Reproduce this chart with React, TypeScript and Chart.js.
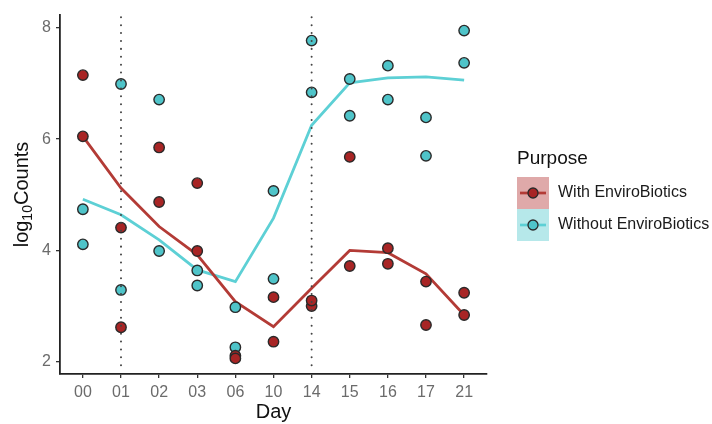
import React, { useEffect, useRef } from "react";
import { Chart, registerables } from "chart.js";

Chart.register(...registerables);

const days = ["00", "01", "02", "03", "06", "10", "14", "15", "16", "17", "21"];
const withPtsA = [7.15, 4.41, 5.85, 5.21, 2.06, 3.16, 3.1, 5.68, 4.04, 3.44, 3.24];
const withPtsB = [6.05, 2.62, 4.87, 3.99, 2.11, 2.36, 3.0, 3.72, 3.76, 2.66, 2.84];
const withoutPtsA = [4.74, 6.99, 6.71, 3.64, 2.98, 5.07, 7.77, 7.08, 7.32, 6.39, 7.95];
const withoutPtsB = [4.11, 3.29, 3.99, 3.37, 2.26, 3.49, 6.84, 6.42, 6.71, 5.7, 7.37];
const withLine = [6.05, 5.12, 4.43, 3.92, 3.08, 2.63, 3.32, 4.0, 3.96, 3.58, 2.84];
const withoutLine = [4.92, 4.64, 4.19, 3.65, 3.44, 4.58, 6.25, 7.01, 7.1, 7.12, 7.06];
const yTicks = [2, 4, 6, 8];
const markerDays = ["01", "14"];
const seriesNames = ["With EnviroBiotics", "Without EnviroBiotics"];
const legendTitle = "Purpose";

const RED_PT = "#a82525";
const RED_LINE = "#b33b36";
const CYAN_PT = "#4fc4c9";
const CYAN_LINE = "#5dd0d5";
const FONT = "'Liberation Sans', Arial, Helvetica, sans-serif";

const toXY = (arr: number[]) => arr.map((y, i) => ({ x: i, y }));

export default function App() {
  const ref = useRef<HTMLCanvasElement | null>(null);
  useEffect(() => {
    if (!ref.current) return;
    const markerSets = markerDays.map((d) => {
      const i = days.indexOf(d);
      return {
        type: "line" as const,
        data: [
          { x: i, y: 8.19 },
          { x: i, y: 1.9 },
        ],
        borderColor: "#444",
        borderWidth: 2,
        borderDash: [0.01, 7.9],
        borderCapStyle: "round" as const,
        pointRadius: 0,
        order: -1,
      };
    });
    const pointStyle = (fill: string) => ({
      type: "scatter" as const,
      backgroundColor: fill,
      borderColor: "#2a2a2a",
      borderWidth: 1.4,
      pointRadius: 5.2,
      order: 0,
    });
    const legendPlugin = {
      id: "customLegendAndTitles",
      afterDraw(chart: any) {
        const ctx = chart.ctx;
        ctx.save();
        // y-axis title with subscript
        const cy = (chart.chartArea.top + chart.chartArea.bottom) / 2;
        ctx.translate(22, cy);
        ctx.rotate(-Math.PI / 2);
        ctx.fillStyle = "#111";
        ctx.textBaseline = "middle";
        const big = `20px ${FONT}`;
        const small = `14px ${FONT}`;
        ctx.font = big;
        const w1 = ctx.measureText("log").width;
        const w3 = ctx.measureText("Counts").width;
        ctx.font = small;
        const w2 = ctx.measureText("10").width;
        let x0 = -(w1 + w2 + w3) / 2;
        ctx.font = big;
        ctx.textAlign = "left";
        ctx.fillText("log", x0, 0);
        ctx.font = small;
        ctx.fillText("10", x0 + w1, 6);
        ctx.font = big;
        ctx.fillText("Counts", x0 + w1 + w2, 0);
        ctx.restore();

        // legend
        ctx.save();
        const lx = 517;
        const ly = 177;
        const box = 32;
        ctx.fillStyle = "#111";
        ctx.font = `19px ${FONT}`;
        ctx.textAlign = "left";
        ctx.textBaseline = "alphabetic";
        ctx.fillText(legendTitle, lx, 164);
        const cols = [
          { fill: "rgba(178,50,50,0.42)", line: RED_LINE, pt: RED_PT },
          { fill: "rgba(80,200,206,0.42)", line: CYAN_LINE, pt: CYAN_PT },
        ];
        cols.forEach((c, k) => {
          const top = ly + k * box;
          ctx.fillStyle = c.fill;
          ctx.fillRect(lx, top, box, box);
          const my = top + box / 2;
          ctx.strokeStyle = c.line;
          ctx.lineWidth = 2.7;
          ctx.beginPath();
          ctx.moveTo(lx + 3, my);
          ctx.lineTo(lx + box - 3, my);
          ctx.stroke();
          ctx.beginPath();
          ctx.arc(lx + box / 2, my, 5, 0, Math.PI * 2);
          ctx.fillStyle = c.pt;
          ctx.fill();
          ctx.strokeStyle = "#2a2a2a";
          ctx.lineWidth = 1.3;
          ctx.stroke();
          ctx.fillStyle = "#1a1a1a";
          ctx.font = `16px ${FONT}`;
          ctx.textBaseline = "middle";
          ctx.fillText(seriesNames[k], lx + box + 9, my);
        });
        ctx.restore();
      },
    };

    const chart = new Chart(ref.current, {
      type: "scatter",
      data: {
        datasets: [
          ...markerSets,
          { ...pointStyle(RED_PT), data: toXY(withPtsA) },
          { ...pointStyle(RED_PT), data: toXY(withPtsB) },
          { ...pointStyle(CYAN_PT), data: toXY(withoutPtsA) },
          { ...pointStyle(CYAN_PT), data: toXY(withoutPtsB) },
          {
            type: "line",
            data: toXY(withLine),
            borderColor: RED_LINE,
            borderWidth: 2.8,
            pointRadius: 0,
            tension: 0,
            order: 1,
          },
          {
            type: "line",
            data: toXY(withoutLine),
            borderColor: CYAN_LINE,
            borderWidth: 2.8,
            pointRadius: 0,
            tension: 0,
            order: 1,
          },
        ] as any,
      },
      plugins: [legendPlugin],
      options: {
        animation: false,
        responsive: false,
        devicePixelRatio: 1,
        layout: { padding: { left: 0, right: 225, top: 15, bottom: 0 } },
        plugins: { legend: { display: false }, tooltip: { enabled: false } },
        scales: {
          x: {
            type: "linear",
            min: -0.6,
            max: 10.6,
            afterBuildTicks: (axis: any) => {
              axis.ticks = days.map((_, i) => ({ value: i }));
            },
            afterFit: (axis: any) => {
              axis.height = 50;
            },
            ticks: {
              callback: (v: any) => days[v as number],
              color: "#6b6b6b",
              font: { family: FONT, size: 16 },
              padding: 5,
              maxRotation: 0,
              autoSkip: false,
            },
            grid: {
              display: true,
              drawOnChartArea: false,
              drawTicks: true,
              tickLength: 4,
              color: "#333",
              lineWidth: 1.3,
            },
            border: { display: true, color: "#222", width: 1.8 },
            title: {
              display: true,
              text: "Day",
              color: "#111",
              font: { family: FONT, size: 20 },
              padding: { top: 0, bottom: 0 },
            },
          },
          y: {
            type: "linear",
            min: 1.78,
            max: 8.23,
            afterBuildTicks: (axis: any) => {
              axis.ticks = yTicks.map((v) => ({ value: v }));
            },
            afterFit: (axis: any) => {
              axis.width = 60;
            },
            ticks: {
              color: "#6b6b6b",
              font: { family: FONT, size: 16 },
              padding: 5,
            },
            grid: {
              display: true,
              drawOnChartArea: false,
              drawTicks: true,
              tickLength: 4,
              color: "#333",
              lineWidth: 1.3,
            },
            border: { display: true, color: "#222", width: 1.8 },
          },
        },
      } as any,
    });
    return () => chart.destroy();
  }, []);
  return (
    <div style={{ position: "absolute", left: 0, top: 0, width: 712, height: 424, background: "#fff" }}>
      <canvas ref={ref} width={712} height={424} style={{ width: 712, height: 424 }} />
    </div>
  );
}
